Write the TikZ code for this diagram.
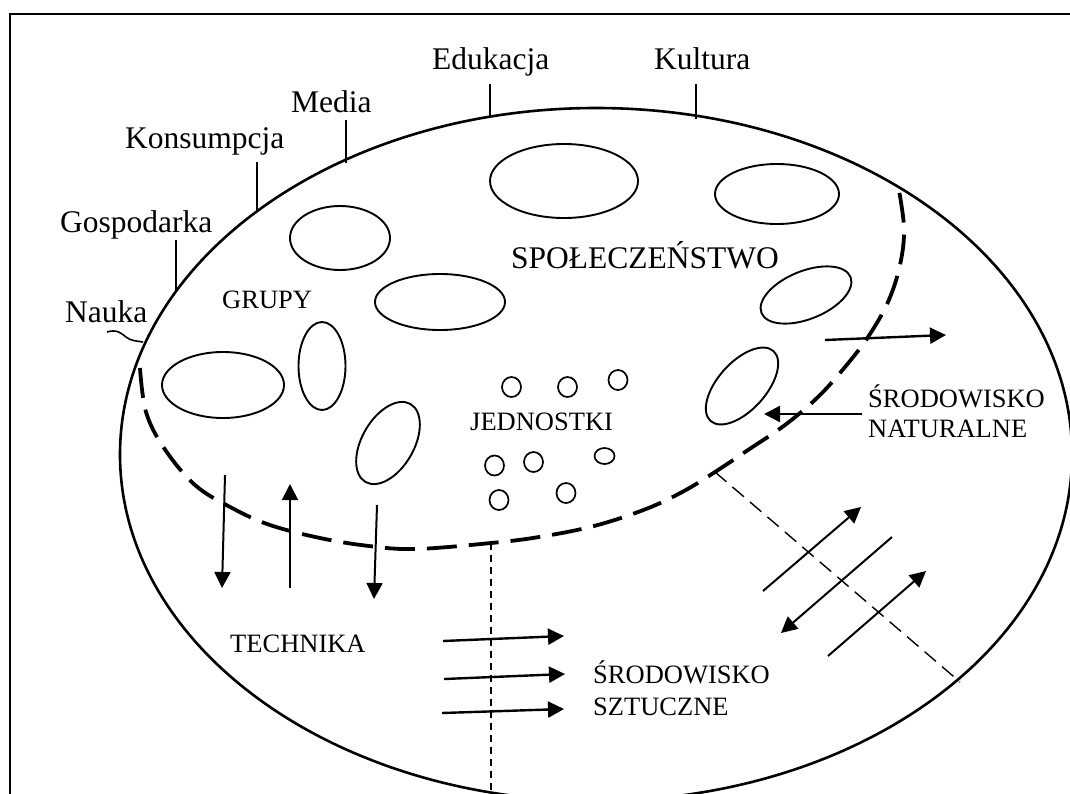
\documentclass[tikz,border=0pt]{standalone}
\usepackage{fontspec}
\setmainfont{Liberation Serif}
\usetikzlibrary{arrows.meta}
\tikzset{
  outline/.style={line width=2.6pt},
  frameline/.style={line width=2pt},
  group/.style={line width=1.9pt},
  person/.style={line width=1.7pt},
  tick/.style={line width=1.6pt},
  bigdash/.style={line width=3.8pt, dash pattern=on 30pt off 12pt},
  finedash/.style={line width=1.4pt, dash pattern=on 7pt off 5pt},
  diagdash/.style={line width=1.4pt, dash pattern=on 15pt off 8pt},
  flow/.style={line width=2pt, -{Triangle[length=16pt,width=16pt]}},
  bigtext/.style={font=\fontsize{31.5}{36}\selectfont, inner sep=0pt, anchor=base west},
  captext/.style={font=\fontsize{26.5}{30}\selectfont, inner sep=0pt, anchor=base west},
}
\begin{document}
\begin{tikzpicture}[x=1pt, y=-1pt]
\useasboundingbox (0,0) rectangle (1070,793);
\clip (0,0) rectangle (1070,793);

% outer frame
\draw[frameline] (10,830) -- (10,14) -- (1100,14);

% society as a whole
\draw[outline] (596,454.5) ellipse [x radius=476, y radius=346.5];

% labels around the rim
\node[bigtext] (edu) at (432,69) {Edukacja};
\node[bigtext] (kul) at (654,69) {Kultura};
\node[bigtext] (med) at (291,112) {Media};
\node[bigtext] (kon) at (125,148) {Konsumpcja};
\node[bigtext] (gos) at (60,232) {Gospodarka};
\node[bigtext] (nau) at (65,322) {Nauka};

\coordinate (edu1) at (490,84);  \coordinate (edu2) at (490,117);
\coordinate (kul1) at (696,84);  \coordinate (kul2) at (696,119);
\coordinate (med1) at (346,120); \coordinate (med2) at (346,163);
\coordinate (kon1) at (257,162); \coordinate (kon2) at (257,212);
\coordinate (gos1) at (176,240); \coordinate (gos2) at (176,291);
\coordinate (nau1) at (107,332); \coordinate (nau2) at (143,342);
\draw[tick] (edu1) -- (edu2);
\draw[tick] (kul1) -- (kul2);
\draw[tick] (med1) -- (med2);
\draw[tick] (kon1) -- (kon2);
\draw[tick] (gos1) -- (gos2);
\draw[tick] (nau1) .. controls (117,329) and (121,333) .. (126,337)
               .. controls (131,341) and (137,341) .. (nau2);

% groups
\draw[group] (564,181) ellipse [x radius=74, y radius=37];
\draw[group] (777,194) ellipse [x radius=62, y radius=30];
\draw[group] (340,238) ellipse [x radius=50, y radius=32];
\draw[group] (440,302) ellipse [x radius=65, y radius=28];
\draw[group, rotate around={22:(806,295)}] (806,295) ellipse [x radius=48, y radius=24];
\draw[group, rotate around={48:(742,386)}] (742,386) ellipse [x radius=47, y radius=24];
\draw[group] (223,385) ellipse [x radius=61, y radius=33];
\draw[group] (322,366) ellipse [x radius=23.5, y radius=44];
\draw[group, rotate around={60:(388,443)}] (388,443) ellipse [x radius=45, y radius=26];

% individuals
\draw[person] (511.5,387) ellipse [x radius=9.5, y radius=10];
\draw[person] (567.5,387) ellipse [x radius=9.5, y radius=10];
\draw[person] (618,380) ellipse [x radius=9.5, y radius=10];
\draw[person] (494.5,465.5) ellipse [x radius=9.5, y radius=10];
\draw[person] (533.5,462) ellipse [x radius=9.5, y radius=10];
\draw[person] (604.5,456) ellipse [x radius=10, y radius=8];
\draw[person] (499,500) ellipse [x radius=9.5, y radius=10];
\draw[person] (566,493) ellipse [x radius=9.5, y radius=10];

% inner texts
\node[bigtext] (spo) at (511,268) {SPOŁECZEŃSTWO};
\node[captext] (gru) at (222,308) {GRUPY};
\node[captext] (jed) at (470,430) {JEDNOSTKI};
\node[captext] (nat1) at (868,407) {ŚRODOWISKO};
\node[captext] (nat2) at (868,437) {NATURALNE};
\node[captext] (tec) at (230,652) {TECHNIKA};
\node[captext] (szt1) at (593,683) {ŚRODOWISKO};
\node[captext] (szt2) at (593,715) {SZTUCZNE};

% boundary of the social sphere
\coordinate (bL) at (140,368);
\coordinate (bM) at (491,543);
\coordinate (bR) at (715,472);
\coordinate (bT) at (898,185);
\draw[bigdash] plot[smooth, tension=0.6] coordinates {
  (bL) (146,412) (164,448) (195,485) (232,508) (270,525) (320,538)
  (369,546) (416,549) (bM) (539,537) (594,526) (646,509) (684,491)
  (bR) (748,450) (785,425) (818,397) (845,367) (868,337) (888,302)
  (900,265) (904,228) (bT)};

% division lines
\coordinate (vEnd) at (491,800);
\coordinate (dEnd) at (960,682);
\draw[finedash] (bM) -- (vEnd);
\draw[diagdash] (bR) -- (dEnd);

% technology arrows
\coordinate (t1a) at (225,475); \coordinate (t1b) at (222,588);
\coordinate (t2a) at (290,588); \coordinate (t2b) at (290,484);
\coordinate (t3a) at (377,505); \coordinate (t3b) at (374,599);
\draw[flow] (t1a) -- (t1b);
\draw[flow] (t2a) -- (t2b);
\draw[flow] (t3a) -- (t3b);

% artificial environment arrows
\coordinate (s1a) at (443,641); \coordinate (s1b) at (564,636);
\coordinate (s2a) at (444,679); \coordinate (s2b) at (565,674);
\coordinate (s3a) at (442,713); \coordinate (s3b) at (564,709);
\draw[flow, line width=2.4pt] (s1a) -- (s1b);
\draw[flow, line width=2.4pt] (s2a) -- (s2b);
\draw[flow, line width=2.4pt] (s3a) -- (s3b);

% natural environment arrows
\coordinate (n1a) at (825,340); \coordinate (n1b) at (946,335);
\coordinate (n2a) at (862,414); \coordinate (n2b) at (764,414);
\draw[flow, line width=2.4pt] (n1a) -- (n1b);
\draw[flow, line width=2.4pt] (n2a) -- (n2b);

% exchange across the diagonal
\coordinate (d1a) at (763,591); \coordinate (d1b) at (861,507);
\coordinate (d2a) at (892,537); \coordinate (d2b) at (781,633);
\coordinate (d3a) at (828,656); \coordinate (d3b) at (926,571);
\draw[flow] (d1a) -- (d1b);
\draw[flow] (d2a) -- (d2b);
\draw[flow] (d3a) -- (d3b);
\end{tikzpicture}
\end{document}
